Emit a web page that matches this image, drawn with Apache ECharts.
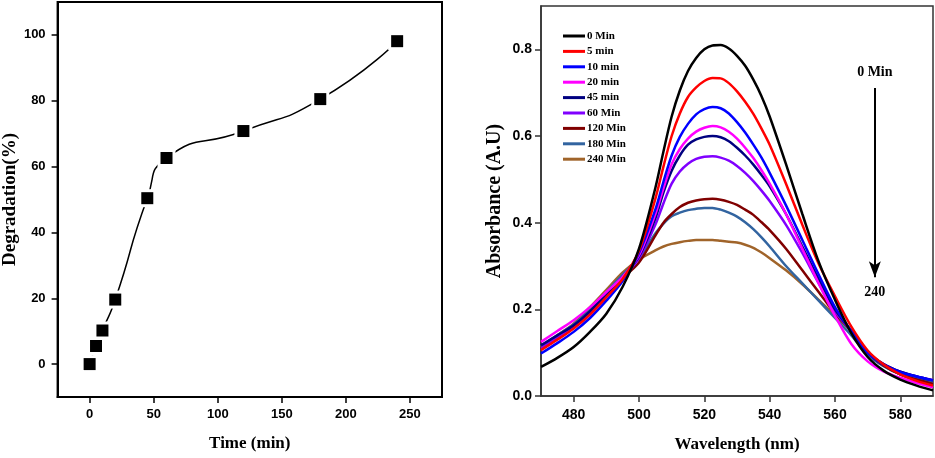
<!DOCTYPE html>
<html><head><meta charset="utf-8">
<script src="https://cdn.jsdelivr.net/npm/echarts@6/dist/echarts.min.js"></script>
<style>html,body{margin:0;padding:0;background:#fff}#c{width:935px;height:458px}</style>
</head><body><div id="c"></div>
<script>
// ---- Left chart data ----
const timeMin = [0, 5, 10, 20, 45, 60, 120, 180, 240];
const degradation = [0, 5.5, 10.2, 19.6, 50.4, 62.6, 70.8, 80.5, 98.1];
const leftXTicks = [0, 50, 100, 150, 200, 250];
const leftYTicks = [0, 20, 40, 60, 80, 100];

// ---- Right chart data ----
const wavelength = [470,475,480,485,490,495,500,505,507.5,510,512.5,515,517.5,520,522.5,525,527.5,530,532.5,535,537.5,540,545,550,555,560,565,570,575,580,585,590];
const abs0   = [.067,.088,.113,.148,.19,.252,.34,.48,.565,.645,.705,.75,.78,.80,.809,.81,.802,.785,.762,.73,.692,.645,.535,.42,.31,.222,.145,.09,.058,.038,.024,.013];
const abs5   = [.106,.13,.156,.188,.228,.27,.335,.455,.53,.6,.652,.69,.712,.727,.734,.733,.722,.703,.679,.651,.617,.58,.49,.395,.305,.23,.16,.105,.072,.05,.035,.024];
const abs10  = [.098,.122,.148,.18,.22,.265,.33,.43,.495,.555,.598,.628,.65,.662,.667,.664,.652,.632,.608,.58,.55,.515,.44,.36,.28,.205,.15,.1,.072,.055,.045,.036];
const abs20  = [.125,.15,.175,.205,.24,.275,.325,.42,.48,.535,.57,.594,.61,.619,.623,.62,.61,.594,.573,.549,.521,.49,.42,.34,.26,.185,.12,.08,.056,.042,.03,.02];
const abs45  = [.117,.14,.163,.195,.235,.275,.322,.41,.47,.52,.555,.58,.592,.598,.6,.597,.588,.573,.555,.534,.51,.484,.42,.345,.27,.2,.15,.1,.073,.056,.045,.036];
const abs60  = [.11,.135,.16,.19,.23,.272,.318,.395,.445,.49,.518,.536,.547,.552,.553,.55,.543,.531,.515,.496,.474,.45,.395,.33,.26,.195,.15,.1,.073,.056,.045,.037];
const abs120 = [.11,.135,.16,.195,.235,.272,.308,.37,.4,.42,.436,.446,.451,.454,.455,.453,.448,.441,.43,.418,.401,.383,.34,.29,.24,.19,.15,.1,.07,.05,.038,.028];
const abs180 = [.115,.14,.165,.2,.24,.28,.318,.375,.398,.415,.423,.429,.432,.434,.434,.43,.423,.414,.401,.385,.366,.345,.3,.26,.22,.18,.14,.095,.068,.05,.04,.032];
const abs240 = [.112,.14,.167,.205,.245,.285,.315,.336,.345,.351,.355,.358,.36,.36,.36,.358,.356,.354,.349,.342,.331,.318,.29,.258,.222,.186,.15,.1,.07,.05,.036,.026];
const spectraNames = ['0 Min','5 min','10 min','20 min','45 min','60 Min','120 Min','180 Min','240 Min'];
const spectra = [abs0, abs5, abs10, abs20, abs45, abs60, abs120, abs180, abs240];
const rightXTicks = [480, 500, 520, 540, 560, 580];
const rightYTicks = [0, 0.2, 0.4, 0.6, 0.8];

const colors = ['#000000','#ff0000','#0000ff','#ff00ff','#000080','#8000ff','#800000','#3264a0','#a0642a'];

const serif = "'Liberation Serif','Times New Roman',serif";
const sans = "'Liberation Sans Narrow','Liberation Sans',Arial,sans-serif";

const chart = echarts.init(document.getElementById('c'), null, {renderer: 'canvas'});

const spectraSeries = spectra.map((arr, i) => ({
  name: spectraNames[i],
  type: 'line',
  xAxisIndex: 1, yAxisIndex: 1,
  data: wavelength.map((w, j) => [w, arr[j]]),
  smooth: 0.3,
  showSymbol: false,
  symbol: 'none',
  lineStyle: {color: colors[i], width: 2.5},
  itemStyle: {color: colors[i]},
  z: 10 - i
}));

// arrow annotation on last series
spectraSeries[8].markLine = {
  silent: true,
  symbol: ['none', 'arrow'],
  symbolSize: [9, 16],
  lineStyle: {color: '#000', width: 2, type: 'solid'},
  label: {show: false},
  data: [[{coord: [572.2, 0.711]}, {coord: [572.2, 0.274]}]]
};
spectraSeries[8].markPoint = {
  silent: true,
  symbol: 'circle',
  symbolSize: 1,
  itemStyle: {color: 'rgba(0,0,0,0)'},
  label: {show: true, position: 'inside', color: '#000', fontFamily: serif, fontWeight: 'bold', fontSize: 14,
          formatter: p => p.name},
  data: [{name: '0 Min', coord: [572.2, 0.746]}, {name: '240', coord: [572.2, 0.24]}]
};

const option = {
  animation: false,
  backgroundColor: '#fff',
  grid: [
    {left: 51, top: 2, width: 391, height: 395, show: true, borderColor: '#000', borderWidth: 2, backgroundColor: 'transparent'},
    {left: 541, top: 6, width: 392, height: 390, show: true, borderColor: '#333', borderWidth: 1.5, backgroundColor: 'transparent'}
  ],
  legend: {
    data: spectraNames,
    left: 563, top: 30,
    orient: 'vertical',
    padding: 0,
    itemWidth: 22, itemHeight: 3,
    itemGap: 3.4,
    icon: 'rect',
    textStyle: {fontFamily: serif, fontWeight: 'bold', fontSize: 11, color: '#000', lineHeight: 12, padding: [0,0,0,-3]}
  },
  xAxis: [
    {
      gridIndex: 0, type: 'value', min: -25, max: 275,
      name: 'Time (min)', nameLocation: 'middle', nameGap: 38,
      nameTextStyle: {fontFamily: serif, fontWeight: 'bold', fontSize: 17, color: '#000'},
      axisLine: {show: true, onZero: false, lineStyle: {color: '#000', width: 2}},
      axisTick: {show: true, length: 6, lineStyle: {color: '#000', width: 1.5}, customValues: leftXTicks},
      axisLabel: {show: true, margin: 11, fontFamily: sans, fontWeight: 'bold', fontSize: 13, color: '#000', customValues: leftXTicks},
      splitLine: {show: false}
    },
    {
      gridIndex: 1, type: 'value', min: 470, max: 590,
      name: 'Wavelength (nm)', nameLocation: 'middle', nameGap: 40,
      nameTextStyle: {fontFamily: serif, fontWeight: 'bold', fontSize: 17, color: '#000'},
      axisLine: {show: true, onZero: false, lineStyle: {color: '#333', width: 1.5}},
      axisTick: {show: true, length: 6, lineStyle: {color: '#333', width: 1.5}, customValues: rightXTicks},
      axisLabel: {show: true, margin: 12, fontFamily: sans, fontWeight: 'bold', fontSize: 14, color: '#000', customValues: rightXTicks},
      splitLine: {show: false}
    }
  ],
  yAxis: [
    {
      gridIndex: 0, type: 'value', min: -10, max: 110,
      name: 'Degradation(%)', nameLocation: 'middle', nameGap: 33, nameRotate: 90,
      nameTextStyle: {fontFamily: serif, fontWeight: 'bold', fontSize: 19, color: '#000'},
      axisLine: {show: true, onZero: false, lineStyle: {color: '#000', width: 2}},
      axisTick: {show: true, length: 6, lineStyle: {color: '#000', width: 1.5}, customValues: leftYTicks},
      axisLabel: {show: true, margin: 12, fontFamily: sans, fontWeight: 'bold', fontSize: 13, color: '#000', customValues: leftYTicks},
      splitLine: {show: false}
    },
    {
      gridIndex: 1, type: 'value', min: 0, max: 0.9,
      name: 'Absorbance (A.U)', nameLocation: 'middle', nameGap: 36, nameRotate: 90,
      nameTextStyle: {fontFamily: serif, fontWeight: 'bold', fontSize: 20, color: '#000'},
      axisLine: {show: true, onZero: false, lineStyle: {color: '#333', width: 1.5}},
      axisTick: {show: true, length: 6, lineStyle: {color: '#333', width: 1.5}, customValues: rightYTicks},
      axisLabel: {show: true, margin: 9, fontFamily: sans, fontWeight: 'bold', fontSize: 14, color: '#000', customValues: rightYTicks,
                  formatter: v => v.toFixed(1)},
      splitLine: {show: false}
    }
  ],
  series: [
    {
      name: 'Degradation line',
      type: 'line',
      xAxisIndex: 0, yAxisIndex: 0,
      data: timeMin.map((t, i) => [t, degradation[i]]),
      smooth: 0.6,
      symbol: 'rect', symbolSize: 18,
      itemStyle: {color: '#fff', opacity: 1},
      lineStyle: {color: '#000', width: 1.5},
      z: 2
    },
    {
      name: 'Degradation',
      type: 'scatter',
      xAxisIndex: 0, yAxisIndex: 0,
      data: timeMin.map((t, i) => [t, degradation[i]]),
      symbol: 'rect', symbolSize: 12,
      itemStyle: {color: '#000', opacity: 1},
      z: 3
    },
    ...spectraSeries
  ]
};
chart.setOption(option);
</script>
</body></html>
